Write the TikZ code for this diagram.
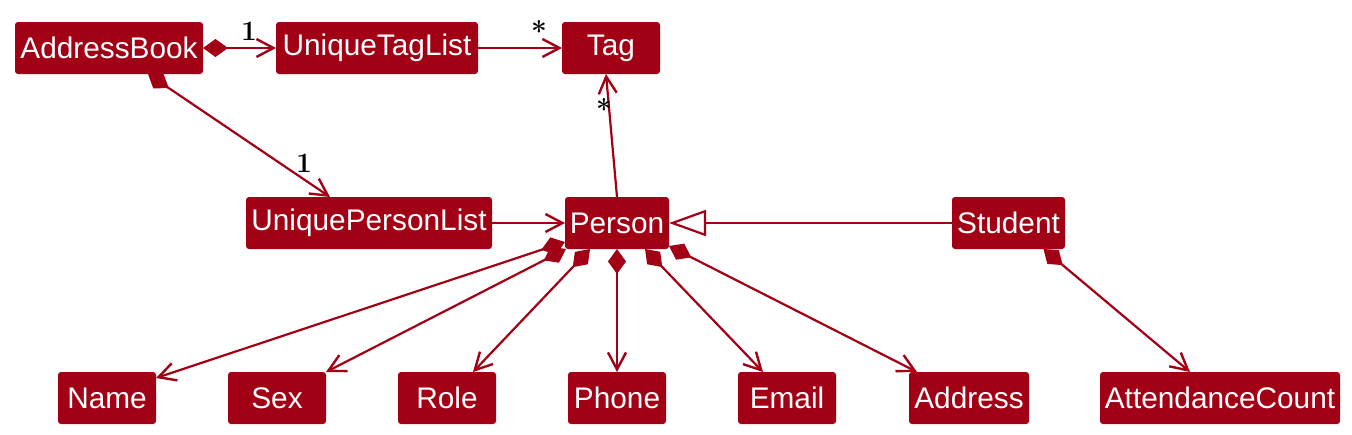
\documentclass[tikz,border=0pt]{standalone}
\usepackage{fontspec}
\newfontfamily\clsfamily{Liberation Sans}
\usetikzlibrary{arrows.meta,calc}
\definecolor{umlred}{RGB}{161,0,21}
\tikzset{
  cls/.style={fill=umlred, text=white, rounded corners=1.5pt, minimum height=26pt,
    inner sep=0pt, outer sep=0pt, font=\clsfamily\fontsize{14.9}{17}\selectfont},
  comp/.style={draw=umlred, line width=1.1pt,
    {Diamond[length=12.5pt,width=9pt,fill=umlred]}-{Straight Barb[length=8.5pt,width=9pt,line width=1.2pt]}},
  assoc/.style={draw=umlred, line width=1.1pt, -{Straight Barb[length=8.5pt,width=9pt,line width=1.2pt]}},
  inh/.style={draw=umlred, line width=1.1pt, -{Triangle[open,length=18.5pt,width=13pt,fill=white]}},
  mult/.style={text=black, inner sep=0pt, font=\fontsize{14}{16}\selectfont\bfseries}
}
\begin{document}
\begin{tikzpicture}[x=0.5pt,y=-0.5pt]
\useasboundingbox (0,0) rectangle (1352,434);
\node[cls, minimum width=94pt] (ab) at (109,48) {AddressBook};
\node[cls, minimum width=101pt] (utl) at (377,48) {UniqueTagList};
\node[cls, minimum width=49pt] (tag) at (611,48) {Tag};
\node[cls, minimum width=123pt] (upl) at (369,223) {UniquePersonList};
\node[cls, minimum width=52pt] (person) at (617,223) {Person};
\node[cls, minimum width=56.5pt] (student) at (1008.5,223) {Student};
\node[cls, minimum width=49pt] (name) at (107,398) {Name};
\node[cls, minimum width=49pt] (sex) at (277,398) {Sex};
\node[cls, minimum width=49pt] (role) at (447,398) {Role};
\node[cls, minimum width=49pt] (phone) at (617,398) {Phone};
\node[cls, minimum width=49pt] (email) at (787,398) {Email};
\node[cls, minimum width=60pt] (address) at (969,398) {Address};
\node[cls, minimum width=120pt] (att) at (1220,398) {AttendanceCount};

\draw[comp] (ab.east) -- (utl.west);
\draw[assoc] (utl.east) -- (tag.west);
\draw[comp] ($(ab.south)+(39,0)$) -- ($(upl.north)+(-39,0)$);
\draw[assoc] (upl.east) -- (person.west);
\draw[assoc] (person.north) -- ($(tag.south)+(-5,0)$);
\draw[inh] (student.west) -- (person.east);

\draw[comp] ($(person.west)+(0,19)$) -- ($(name.east)+(0,-20)$);
\draw[comp] ($(person.south west)+(1,0)$) -- (sex.north east);
\draw[comp] ($(person.south)+(-27,0)$) -- ($(role.north)+(26,0)$);
\draw[comp] (person.south) -- (phone.north);
\draw[comp] ($(person.south)+(28,0)$) -- ($(email.north)+(-24,0)$);
\draw[comp] ($(person.east)+(0,23)$) -- ($(address.north)+(-52,0)$);
\draw[comp] ($(student.south)+(35,0)$) -- ($(att.north)+(-30,0)$);

\node[mult] (m1) at (249,31) {1};
\node[mult] (m2) at (539,31) {*};
\node[mult] (m3) at (604,109) {*};
\node[mult] (m4) at (304,163) {1};
\end{tikzpicture}
\end{document}
